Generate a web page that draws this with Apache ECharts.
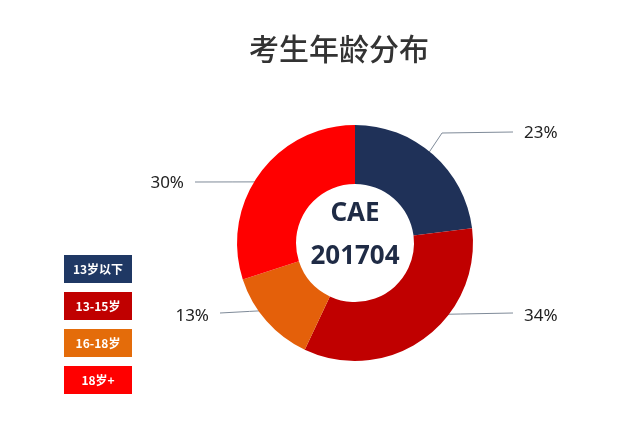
<!DOCTYPE html>
<html><head><meta charset="utf-8">
<script src="https://cdn.jsdelivr.net/npm/echarts@6/dist/echarts.min.js"></script>
<style>html,body{margin:0;padding:0;background:#fff}#c{width:641px;height:421px}</style>
</head><body><div id="c"></div>
<script>
var categories = ['13岁以下', '13-15岁', '16-18岁', '18岁+'];
var values = [23, 34, 13, 30];
var colors = ['#1f3158', '#c00000', '#e4600a', '#ff0000'];
var legendColors = ['#1f3864', '#c00000', '#e46c0a', '#ff0000'];
var titleText = '考生年龄分布';
var centerLines = ['CAE', '201704'];

// layout (not data): pie geometry and label anchor points (line end near label)
var CX = 355, CY = 243, R0 = 59, R1 = 118;
var labelAnchors = [[513, 132, 'left', 1], [513, 313, 'left', 3], [220, 313, 'right', 3], [195, 182, 'right', 1]];
var lineStartR = [84, 89, 101, 104];

var total = values.reduce(function (a, b) { return a + b; }, 0);
function midAngle(i) {
  var before = 0;
  for (var k = 0; k < i; k++) before += values[k];
  var frac = (before + values[i] / 2) / total;
  return frac * 2 * Math.PI; // clockwise from top
}

var graphics = [{
  type: 'text', x: CX, y: 235, z: 100,
  style: {
    text: centerLines.join('\n'), align: 'center', verticalAlign: 'middle',
    textAlign: 'center', textVerticalAlign: 'middle',
    fontSize: 26, fontWeight: 'bold', fill: '#1f2b45', lineHeight: 43, fontFamily: 'Noto Sans'
  }
}];
categories.forEach(function (c, i) {
  graphics.push({
    type: 'rect', x: 64, y: 255 + i * 37, z: 50,
    shape: { width: 68, height: 28 },
    style: { fill: legendColors[i] }
  });
  graphics.push({
    type: 'text', x: 64 + 34, y: 255 + i * 37 + 14.5, z: 51,
    style: {
      text: c, align: 'center', verticalAlign: 'middle', textAlign: 'center', textVerticalAlign: 'middle',
      fill: '#fff', fontSize: 12, fontWeight: 'bold', fontFamily: 'Noto Sans CJK SC'
    }
  });
});

var chart = echarts.init(document.getElementById('c'));
chart.setOption({
  backgroundColor: '#fff',
  animation: false,
  title: {
    text: titleText, left: 334, top: 29, textAlign: 'center',
    textStyle: { fontSize: 30, fontWeight: 500, color: '#333', fontFamily: 'Noto Sans CJK SC' }
  },
  graphic: graphics,
  series: [{
    type: 'pie', center: [CX, CY], radius: [R0, R1], startAngle: 90, clockwise: true,
    color: colors,
    data: categories.map(function (c, i) { return { name: c, value: values[i] }; }),
    label: {
      show: true, position: 'outside', formatter: '{c}%', fontSize: 17, color: '#222',
      fontFamily: 'Noto Sans'
    },
    labelLine: { show: true, length: 20, length2: 40, lineStyle: { color: '#7f8b99', width: 1 } },
    labelLayout: function (p) {
      var i = p.dataIndex;
      var a = midAngle(i);
      var r = lineStartR[i];
      var sx = CX + Math.sin(a) * r, sy = CY - Math.cos(a) * r;
      var an = labelAnchors[i];
      var ex = an[0], ey = an[1];
      var bx, by;
      if (i === 0) { bx = 442; by = ey + 1; } else { bx = (sx + ex) / 2; by = (sy + ey) / 2; }
      var gap = 11;
      return {
        x: an[2] === 'left' ? ex + gap : ex - gap,
        y: ey + an[3],
        align: an[2],
        verticalAlign: 'middle',
        labelLinePoints: [[sx, sy], [bx, by], [ex, ey]]
      };
    },
    itemStyle: { borderWidth: 0 },
    emphasis: { disabled: true }
  }]
});
</script></body></html>
